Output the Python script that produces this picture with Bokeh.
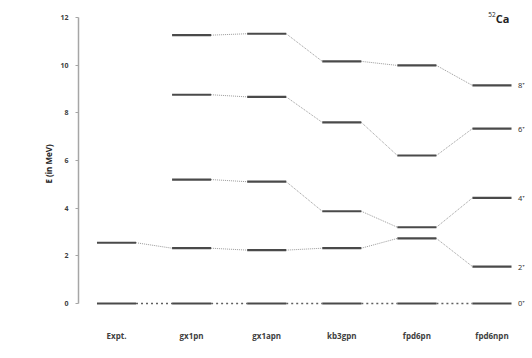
from bokeh.plotting import figure
from bokeh.models import ColumnDataSource, FixedTicker, Label, Range1d
from bokeh.core.properties import value
from bokeh.embed import file_html
from bokeh.resources import INLINE

models = ["Expt.", "gx1pn", "gx1apn", "kb3gpn", "fpd6pn", "fpd6npn"]
spins = ["0⁺", "2⁺", "4⁺", "6⁺", "8⁺"]
e0 = [0.0, 0.0, 0.0, 0.0, 0.0, 0.0]
e2 = [2.55, 2.32, 2.24, 2.32, 2.73, 1.55]
e4 = [None, 5.20, 5.11, 3.87, 3.20, 4.43]
e6 = [None, 8.76, 8.67, 7.60, 6.21, 7.34]
e8 = [None, 11.26, 11.32, 10.16, 9.99, 9.15]
yticks = [0, 2, 4, 6, 8, 10, 12]
nucleus_mass = "52"
nucleus_sym = "Ca"

levels = [e0, e2, e4, e6, e8]
half = 0.26

lv = dict(x0=[], x1=[], y=[])
cn = dict(x0=[], x1=[], y0=[], y1=[])
cz = dict(x0=[], x1=[], y0=[], y1=[])
for k, es in enumerate(levels):
    for i, e in enumerate(es):
        if e is None:
            continue
        lv["x0"].append(i - half); lv["x1"].append(i + half); lv["y"].append(e)
        if i + 1 < len(es) and es[i + 1] is not None:
            d = cz if k == 0 else cn
            d["x0"].append(i + half); d["x1"].append(i + 1 - half)
            d["y0"].append(e); d["y1"].append(es[i + 1])

p = figure(width=530, height=356, output_backend="svg", toolbar_location=None,
           x_range=Range1d(-0.506, 5.513), y_range=Range1d(-0.5875, 12.295),
           min_border_left=78, min_border_right=0, min_border_top=10, min_border_bottom=39)
p.outline_line_color = None
p.grid.visible = False
p.background_fill_color = "white"

p.segment(x0="x0", y0="y0", x1="x1", y1="y1", source=ColumnDataSource(cn),
          line_color="#9a9a9a", line_width=1, line_dash="1 1")
p.segment(x0="x0", y0="y0", x1="x1", y1="y1", source=ColumnDataSource(cz),
          line_color="#606060", line_width=1.5, line_dash="2 3")
p.segment(x0="x0", y0="y", x1="x1", y1="y", source=ColumnDataSource(lv),
          line_color="#4a4a4a", line_width=2.2)

last = len(models) - 1
p.text(x=[last] * len(spins), y=[lv_[last] for lv_ in levels], text=spins,
       x_offset=26, text_baseline="middle", text_align="left",
       text_font=value("Noto Sans"), text_font_size="7.5px", text_color="#333333")

# y axis
ya = p.yaxis[0]
ya.ticker = FixedTicker(ticks=yticks)
ya.bounds = (0, 12)
ya.axis_line_color = "#a6a6a6"
ya.axis_line_width = 1.5
ya.major_tick_line_color = "#a6a6a6"
ya.major_tick_out = 3
ya.major_tick_in = 0
ya.minor_tick_line_color = None
ya.major_label_text_font = "Open Sans"
ya.major_label_text_font_size = "7px"
ya.major_label_text_font_style = "bold"
ya.major_label_text_color = "#404040"
ya.major_label_standoff = 7
ya.axis_label = "E (in MeV)"
ya.axis_label_text_font = "Open Sans"
ya.axis_label_text_font_size = "8px"
ya.axis_label_text_font_style = "bold"
ya.axis_label_text_color = "#222222"
ya.axis_label_standoff = 3

xa = p.xaxis[0]
xa.ticker = FixedTicker(ticks=list(range(len(models))))
xa.major_label_overrides = {i: m for i, m in enumerate(models)}
xa.axis_line_color = None
xa.major_tick_line_color = None
xa.minor_tick_line_color = None
xa.major_label_text_font = "Open Sans"
xa.major_label_text_font_size = "8px"
xa.major_label_text_font_style = "bold"
xa.major_label_text_color = "#404040"
xa.major_label_standoff = 6

p.add_layout(Label(x=4.95, y=12.12, text=nucleus_mass,
                   text_font="Open Sans", text_font_size="6.5px", text_color="#222222",
                   text_baseline="middle"))
p.add_layout(Label(x=5.05, y=11.95, text=nucleus_sym,
                   text_font="Open Sans", text_font_size="11px", text_font_style="bold",
                   text_color="#222222", text_baseline="middle"))

open("out.html", "w").write(file_html(p, INLINE))
